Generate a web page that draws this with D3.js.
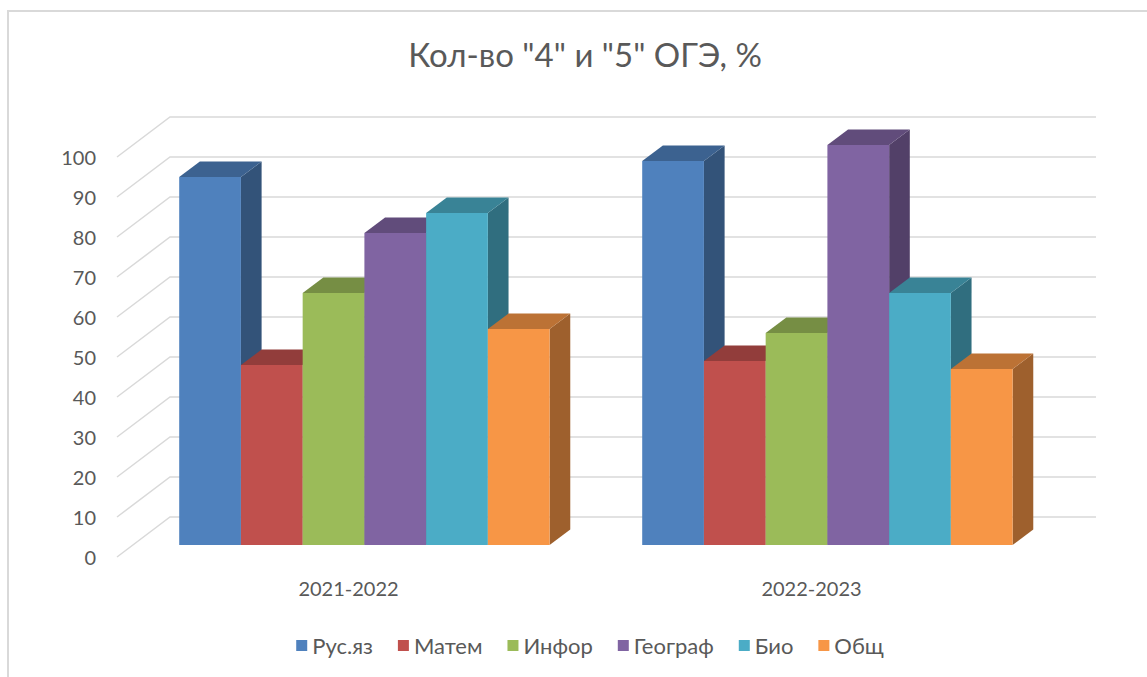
<!DOCTYPE html>
<html>
<head>
<meta charset="utf-8">
<script src="https://cdn.jsdelivr.net/npm/d3@7"></script>
<style>
	html, body { margin: 0; padding: 0; background: #fff; }
	svg text { font-family: Lato, "Open Sans", sans-serif; fill: #595959; }
</style>
</head>
<body>
<div id="chart"></div>
<script>
var categories = ['2021-2022', '2022-2023'];
var seriesNames = ['Рус.яз', 'Матем', 'Инфор', 'Географ', 'Био', 'Общ'];
var rusYaz  = [92, 96];
var matem   = [45, 46];
var infor   = [63, 53];
var geograf = [78, 100];
var bio     = [83, 63];
var obsch   = [54, 44];
var seriesValues = [rusYaz, matem, infor, geograf, bio, obsch];
var colors  = ['#4F81BD', '#C0504D', '#9BBB59', '#8064A2', '#4BACC6', '#F79646'];
var yTicks  = [0, 10, 20, 30, 40, 50, 60, 70, 80, 90, 100];
var title   = 'Кол-во "4" и "5" ОГЭ, %';

var width = 1147, height = 677;

// floor front-left corner and the depth offset of the back wall
var originX = 117, originY = 557;
var depthX  = 53,  depthY  = 40;
var barFront = 0.3, barBack = 0.69;

var x0 = d3.scaleBand().domain(categories).range([0, 926]);
var x1 = d3.scaleBand().domain(seriesNames).range([0, x0.bandwidth()]).paddingOuter(0.75);
var y  = d3.scaleLinear().domain([0, 100]).range([0, 400]);

function proj(x, v, z) {
	return [originX + x + z * depthX, originY - y(v) - z * depthY];
}

function shade(c, k) {
	var rgb = d3.rgb(c);
	return d3.rgb(rgb.r * k, rgb.g * k, rgb.b * k).formatHex();
}

var svg = d3.select('#chart').append('svg')
	.attr('width', width)
	.attr('height', height);

svg.append('rect')
	.attr('width', width).attr('height', height)
	.attr('fill', '#fff');

// chart area border
svg.append('rect')
	.attr('x', 8).attr('y', 11)
	.attr('width', 1300).attr('height', 800)
	.attr('fill', 'none')
	.attr('stroke', '#d9d9d9')
	.attr('stroke-width', 2);

svg.append('text')
	.attr('x', 585).attr('y', 67)
	.attr('text-anchor', 'middle')
	.style('font-size', '33px')
	.text(title);

// gridlines: side wall diagonal + back wall
var grid = svg.append('g').attr('stroke', '#d9d9d9').attr('stroke-width', 1.5).attr('fill', 'none');
yTicks.forEach(function(t){
	var a = proj(0, t, 0), b = proj(0, t, 1), c = proj(x0.range()[1], t, 1);
	grid.append('path').attr('d', 'M' + a + 'L' + b + 'L' + c);
});

svg.append('g').selectAll('text')
	.data(yTicks)
	.join('text')
	.attr('x', 96)
	.attr('y', function(d){ return proj(0, d, 0)[1]; })
	.attr('text-anchor', 'end')
	.attr('dominant-baseline', 'central')
	.style('font-size', '20px')
	.text(function(d){ return d; });

// bars, left to right so the next front face covers the previous side
var bars = svg.append('g');
categories.forEach(function(cat, ci){
	seriesNames.forEach(function(name, si){
		var v  = seriesValues[si][ci];
		var xl = x0(cat) + x1(name), xr = xl + x1.bandwidth();
		var col = colors[si];
		var g = bars.append('g');

		var side = [proj(xr, 0, barFront), proj(xr, 0, barBack), proj(xr, v, barBack), proj(xr, v, barFront)];
		var top  = [proj(xl, v, barFront), proj(xr, v, barFront), proj(xr, v, barBack), proj(xl, v, barBack)];
		var front = [proj(xl, 0, barFront), proj(xr, 0, barFront), proj(xr, v, barFront), proj(xl, v, barFront)];

		g.append('path').attr('d', 'M' + side.join('L') + 'Z').attr('fill', shade(col, 0.64));
		g.append('path').attr('d', 'M' + top.join('L') + 'Z').attr('fill', shade(col, 0.76));
		g.append('path').attr('d', 'M' + front.join('L') + 'Z').attr('fill', col);
	});
});

svg.append('g').selectAll('text')
	.data(categories)
	.join('text')
	.attr('x', function(d){ return originX + x0(d) + x0.bandwidth() / 2; })
	.attr('y', 588)
	.attr('text-anchor', 'middle')
	.attr('dominant-baseline', 'central')
	.style('font-size', '20px')
	.text(function(d){ return d; });

// legend, centred under the plot
var legend = svg.append('g');
var items = legend.selectAll('g')
	.data(seriesNames)
	.join('g');

items.append('rect')
	.attr('width', 11).attr('height', 11)
	.attr('y', -5.5)
	.attr('fill', function(d, i){ return colors[i]; });

items.append('text')
	.attr('x', 16)
	.attr('dominant-baseline', 'central')
	.style('font-size', '22px')
	.text(function(d){ return d; });

var pos = 0;
items.each(function(){
	var w = d3.select(this).select('text').node().getComputedTextLength();
	d3.select(this).attr('transform', 'translate(' + pos + ',0)');
	pos += 16 + w + 25;
});
var legendWidth = pos - 25;
legend.attr('transform', 'translate(' + (590 - legendWidth / 2) + ',645.5)');
</script>
</body>
</html>
